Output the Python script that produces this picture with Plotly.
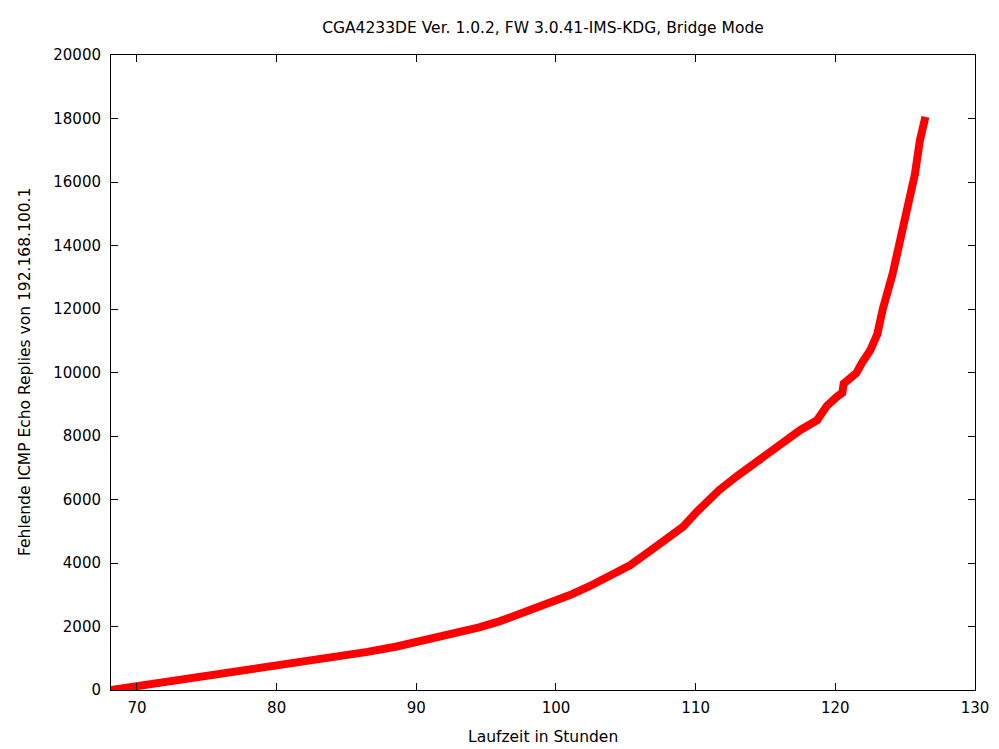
import plotly.graph_objects as go

hours = [68.14, 69.7, 72.0, 74.5, 77.0, 79.3, 81.5, 83.8, 86.5, 88.6, 91.0, 93.4,
         94.5, 96.0, 97.9, 99.6, 101.0, 102.4, 104.0, 105.3, 106.7, 108.0, 109.1,
         110.1, 111.7, 113.0, 114.1, 115.2, 116.2, 117.5, 118.7, 119.4, 120.1, 120.5,
         120.6, 121.5, 121.9, 122.5, 123.0, 123.4, 124.1, 124.6, 125.1, 125.7,
         126.05, 126.45]
missing = [0, 100, 250, 410, 550, 690, 850, 1040, 1200, 1370, 1590, 1850,
           1970, 2170, 2470, 2760, 2990, 3270, 3610, 3930, 4370, 4760, 5140,
           5620, 6300, 6750, 7090, 7470, 7810, 8190, 8500, 8950, 9230, 9360,
           9650, 9980, 10300, 10700, 11200, 12000, 13100, 14150, 15050, 16250,
           17300, 18050]

title_text = "CGA4233DE Ver. 1.0.2, FW 3.0.41-IMS-KDG, Bridge Mode"
x_title = "Laufzeit in Stunden"
y_title = "Fehlende ICMP Echo Replies von 192.168.100.1"

FONT = "DejaVu Sans"
OFF = 8  # page body margin
W, H = 999 - OFF, 749 - OFF
L, R, T, B = 111 - OFF, 24, 55 - OFF, 59
PW, PH = W - L - R, H - T - B

fig = go.Figure()
fig.add_trace(go.Scatter(
    x=hours, y=missing, mode="lines",
    line=dict(color="#ff0000", width=8),
    showlegend=False, hoverinfo="x+y",
))

axis_common = dict(
    showline=True, linecolor="black", linewidth=1, mirror="allticks",
    ticks="inside", ticklen=7, tickcolor="black", tickwidth=1,
    showgrid=False, zeroline=False, automargin=False, tickformat="d",
    tickfont=dict(family=FONT, size=15, color="black"),
)

fig.update_layout(
    width=W, height=H,
    margin=dict(l=L, r=R, t=T, b=B),
    paper_bgcolor="white", plot_bgcolor="white",
    font=dict(family=FONT, size=15, color="black"),
    title=dict(text=title_text, x=0.5, xref="paper", xanchor="center",
               y=1 - (28 - OFF) / H, yref="container", yanchor="middle",
               font=dict(family=FONT, size=15.5, color="black")),
    xaxis=dict(range=[68.14, 130], tick0=70, dtick=10, ticklabelstandoff=4,
               **axis_common),
    yaxis=dict(range=[0, 20000], tick0=0, dtick=2000, ticklabelstandoff=6,
               **axis_common),
    annotations=[
        dict(text=x_title, xref="paper", yref="paper", x=0.5,
             y=-(737 - 690) / PH, xanchor="center", yanchor="middle",
             showarrow=False, font=dict(family=FONT, size=15.5, color="black")),
        dict(text=y_title, xref="paper", yref="paper",
             x=-(111 - 25) / PW, y=(690 - 372) / PH,
             xanchor="center", yanchor="middle", textangle=-90,
             showarrow=False, font=dict(family=FONT, size=15.5, color="black")),
    ],
)

fig.write_html("out.html")
